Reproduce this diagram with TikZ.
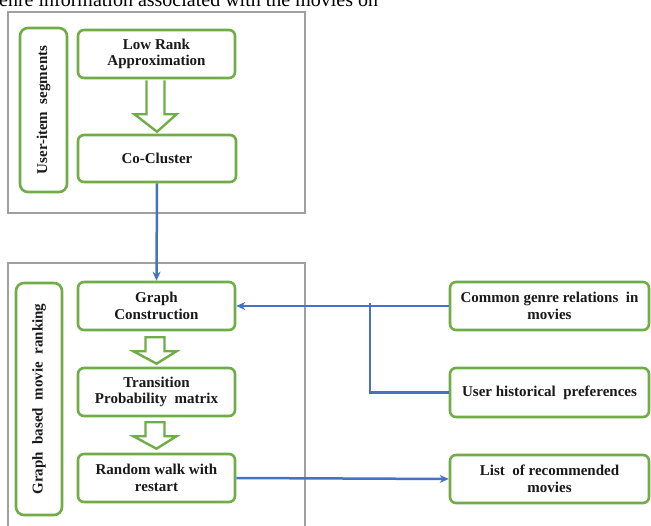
\documentclass[tikz,border=0pt]{standalone}
\usepackage{fontspec}
\setmainfont{Liberation Serif}
\usetikzlibrary{calc,arrows.meta}
\definecolor{boxgreen}{RGB}{112,173,71}
\definecolor{linkblue}{RGB}{68,114,196}
\definecolor{framegray}{RGB}{160,160,160}
\definecolor{txt}{RGB}{25,25,25}
\tikzset{
  stepbox/.style={draw=boxgreen, line width=2.6pt, rounded corners=6pt, fill=white,
    align=center, text=txt, font=\fontsize{15}{16.5}\selectfont\bfseries, inner sep=0pt},
  sidelabel/.style={draw=boxgreen, line width=2.6pt, rounded corners=8pt, fill=white,
    text=txt, font=\fontsize{15}{16.5}\selectfont\bfseries, inner sep=0pt},
  sidetext/.style={rotate=90, text=txt, font=\fontsize{15}{16.5}\selectfont\bfseries},
  frame/.style={draw=framegray, line width=2.2pt},
  link/.style={draw=linkblue, line width=2.5pt, -{Stealth[length=9pt,width=8pt]}},
  plainlink/.style={draw=linkblue, line width=2.5pt},
  hollow/.style={draw=boxgreen, line width=2.4pt, fill=white, line join=miter},
}
\begin{document}
\begin{tikzpicture}[x=1pt,y=-1pt]
\useasboundingbox (0,0) rectangle (651,526);
\fill[white] (0,0) rectangle (651,526);

% caption remnant (cut off at the top in the reference)
\node[anchor=base west, inner sep=0pt, font=\fontsize{20}{22}\selectfont, text=black] (cap) at (-1,7) {enre information associated with the movies on};

% frames
\draw[frame] (8,12) rectangle (305,213);
\draw[frame] (8,263) rectangle (305,545);

% side labels
\node[sidelabel, minimum width=47pt, minimum height=164pt] (lab1) at (43.5,110) {};
\node[sidetext] (lab1t) at (lab1.center) {User-item\ \ segments};
\node[sidelabel, minimum width=46pt, minimum height=232pt] (lab2) at (39,399) {};
\node[sidetext] (lab2t) at (lab2.center) {Graph\ \ based\ \ movie\ \ ranking};

% left column
\node[stepbox, minimum width=157pt, minimum height=48pt] (lra) at (156.5,54) {Low Rank\\Approximation};
\node[stepbox, minimum width=158pt, minimum height=47pt] (cc) at (157,158.5) {Co-Cluster};
\node[stepbox, minimum width=157pt, minimum height=48pt] (gc) at (156.5,306) {Graph\\Construction};
\node[stepbox, minimum width=157pt, minimum height=48pt] (tp) at (156.5,392) {Transition\\Probability\ \ matrix};
\node[stepbox, minimum width=157pt, minimum height=48pt] (rw) at (156.5,478) {Random walk with\\restart};

% right column
\node[stepbox, minimum width=199pt, minimum height=48pt] (cg) at (549.5,306) {Common\ genre\ relations\ \ in\\movies};
\node[stepbox, minimum width=199pt, minimum height=49pt] (uh) at (549.5,392.5) {User historical\ \ preferences};
\node[stepbox, minimum width=199pt, minimum height=48pt] (lr) at (549.5,479) {List\ \ of recommended\\movies};

% hollow arrows
\draw[hollow] ($(lra.south)+(-10,1)$) -- ($(lra.south)+(-10,35)$) -- ($(lra.south)+(-22,35)$)
  -- ($(cc.north)+(0,-2)$) -- ($(lra.south)+(20,35)$) -- ($(lra.south)+(8,35)$) -- ($(lra.south)+(8,1)$);
\draw[hollow] ($(gc.south)+(-11,6)$) -- ($(gc.south)+(-11,20)$) -- ($(gc.south)+(-23,20)$)
  -- ($(tp.north)+(0,-3)$) -- ($(gc.south)+(20,20)$) -- ($(gc.south)+(8,20)$) -- ($(gc.south)+(8,6)$) -- cycle;
\draw[hollow] ($(tp.south)+(-11,5)$) -- ($(tp.south)+(-11,19)$) -- ($(tp.south)+(-23,19)$)
  -- ($(rw.north)+(0,-4)$) -- ($(tp.south)+(20,19)$) -- ($(tp.south)+(8,19)$) -- ($(tp.south)+(8,5)$) -- cycle;

% blue connectors
\draw[link] (cc.south) -- (gc.north);
\coordinate (j) at (370,306);
\draw[link] (cg.west) -- (gc.east);
\draw[plainlink] ($(j)+(0,-3)$) |- (uh.west);
\draw[link] (rw.east) -- (lr.west);
\end{tikzpicture}
\end{document}
